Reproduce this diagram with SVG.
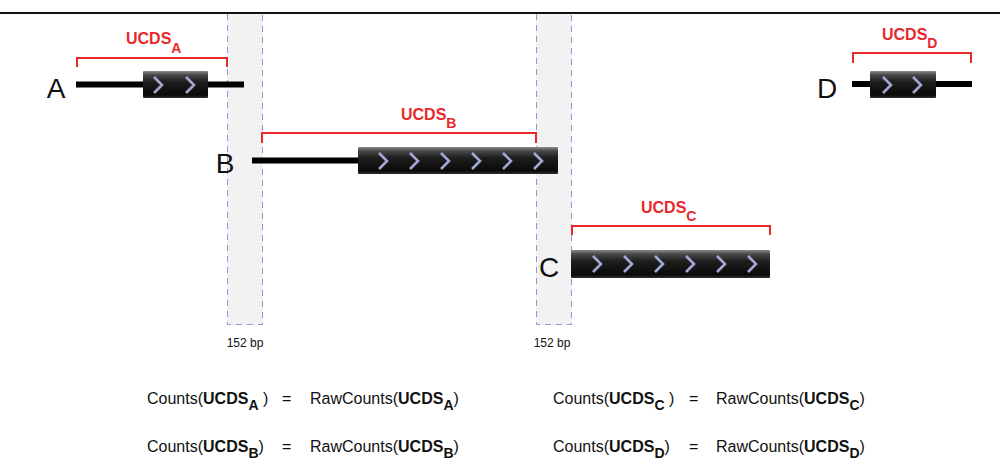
<svg xmlns="http://www.w3.org/2000/svg" width="1000" height="460" viewBox="0 0 1000 460">
  <defs>
    <linearGradient id="cds" x1="0" y1="0" x2="0" y2="1">
      <stop offset="0" stop-color="#8c8c8c"/>
      <stop offset="0.14" stop-color="#4a4a4a"/>
      <stop offset="0.4" stop-color="#1e1e1e"/>
      <stop offset="0.88" stop-color="#0a0a0a"/>
      <stop offset="1" stop-color="#2e2e2e"/>
    </linearGradient>
    <path id="chev" d="M0,-8 L8,0 L0,8"/>
  </defs>
  <style>
    .band { fill: #f2f2f2; }
    .band-edge { fill: none; stroke: #8e98dc; stroke-width: 1; stroke-dasharray: 6 5; }
    .utr { stroke: #000; stroke-width: 6; }
    .cds { fill: url(#cds); }
    .chev { fill: none; stroke: #a2a8d4; stroke-width: 2.6; stroke-linejoin: miter; }
    .bracket { fill: none; stroke: #e8292b; stroke-width: 2; }
    .ulabel { font-family: "Liberation Sans", Arial, sans-serif; font-weight: bold; font-size: 16px; fill: #e8292b; }
    .sub { font-size: 14px; }
    .gene { font-family: "Liberation Sans", Arial, sans-serif; font-size: 28px; fill: #111; text-anchor: middle; }
    .bp { font-family: "Liberation Sans", Arial, sans-serif; font-size: 12px; fill: #111; text-anchor: middle; }
    .eq { font-family: "Liberation Sans", Arial, sans-serif; font-size: 16px; fill: #111; }
    .b { font-weight: bold; }
    .eqsub { font-weight: bold; font-size: 14px; }
  </style>

  <!-- rule across the top -->
  <line x1="0" y1="13" x2="1000" y2="13" stroke="#111" stroke-width="2"/>

  <!-- 152 bp spacer regions -->
  <g id="spacer1">
    <rect class="band" x="227" y="14" width="36" height="311"/>
    <path class="band-edge" d="M227.5,14 V324.5 H262.5 V14"/>
    <text class="bp" x="245" y="347">152 bp</text>
  </g>
  <g id="spacer2">
    <rect class="band" x="536" y="14" width="36" height="311"/>
    <path class="band-edge" d="M536.5,14 V324.5 H571.5 V14"/>
    <text class="bp" x="552" y="347">152 bp</text>
  </g>

  <!-- gene A -->
  <g id="geneA">
    <text class="gene" x="56" y="98">A</text>
    <line class="utr" x1="76" y1="84.5" x2="244" y2="84.5"/>
    <rect class="cds" x="143" y="71" width="65" height="27" rx="1"/>
    <use href="#chev" class="chev" x="154" y="85"/>
    <use href="#chev" class="chev" x="186" y="85"/>
    <path class="bracket" d="M77,67 V58 H227 V67"/>
    <text class="ulabel" x="126" y="44">UCDS<tspan class="sub" dy="9">A</tspan></text>
  </g>

  <!-- gene B -->
  <g id="geneB">
    <text class="gene" x="225" y="173">B</text>
    <line class="utr" x1="252" y1="160.5" x2="359" y2="160.5"/>
    <rect class="cds" x="358" y="147" width="200" height="27" rx="1"/>
    <use href="#chev" class="chev" x="379" y="161"/>
    <use href="#chev" class="chev" x="410" y="161"/>
    <use href="#chev" class="chev" x="441" y="161"/>
    <use href="#chev" class="chev" x="472" y="161"/>
    <use href="#chev" class="chev" x="503" y="161"/>
    <use href="#chev" class="chev" x="534" y="161"/>
    <path class="bracket" d="M262,143 V133 H536 V143"/>
    <text class="ulabel" x="401" y="120">UCDS<tspan class="sub" dy="8">B</tspan></text>
  </g>

  <!-- gene C -->
  <g id="geneC">
    <text class="gene" x="549" y="277">C</text>
    <rect class="cds" x="571" y="250" width="199" height="28" rx="1"/>
    <use href="#chev" class="chev" x="593" y="264"/>
    <use href="#chev" class="chev" x="624" y="264"/>
    <use href="#chev" class="chev" x="655" y="264"/>
    <use href="#chev" class="chev" x="686" y="264"/>
    <use href="#chev" class="chev" x="717" y="264"/>
    <use href="#chev" class="chev" x="748" y="264"/>
    <path class="bracket" d="M572,235 V226 H770 V235"/>
    <text class="ulabel" x="641" y="213">UCDS<tspan class="sub" dy="8">C</tspan></text>
  </g>

  <!-- gene D -->
  <g id="geneD">
    <text class="gene" x="827" y="98">D</text>
    <line class="utr" x1="852" y1="84" x2="972" y2="84"/>
    <rect class="cds" x="870" y="71" width="66" height="27" rx="1"/>
    <use href="#chev" class="chev" x="883" y="85"/>
    <use href="#chev" class="chev" x="913" y="85"/>
    <path class="bracket" d="M853,63 V53 H971 V63"/>
    <text class="ulabel" x="882" y="40">UCDS<tspan class="sub" dy="8">D</tspan></text>
  </g>

  <!-- count equations -->
  <g id="equations">
    <text class="eq" x="147" y="404">Counts(<tspan class="b">UCDS</tspan><tspan class="eqsub" dy="6">A</tspan><tspan dy="-6"> )</tspan></text>
    <text class="eq" x="282" y="404">=</text>
    <text class="eq" x="310" y="404">RawCounts(<tspan class="b">UCDS</tspan><tspan class="eqsub" dy="6">A</tspan><tspan dy="-6">)</tspan></text>

    <text class="eq" x="147" y="452">Counts(<tspan class="b">UCDS</tspan><tspan class="eqsub" dy="6">B</tspan><tspan dy="-6">)</tspan></text>
    <text class="eq" x="282" y="452">=</text>
    <text class="eq" x="310" y="452">RawCounts(<tspan class="b">UCDS</tspan><tspan class="eqsub" dy="6">B</tspan><tspan dy="-6">)</tspan></text>

    <text class="eq" x="553" y="404">Counts(<tspan class="b">UCDS</tspan><tspan class="eqsub" dy="6">C</tspan><tspan dy="-6"> )</tspan></text>
    <text class="eq" x="689" y="404">=</text>
    <text class="eq" x="716" y="404">RawCounts(<tspan class="b">UCDS</tspan><tspan class="eqsub" dy="6">C</tspan><tspan dy="-6">)</tspan></text>

    <text class="eq" x="553" y="452">Counts(<tspan class="b">UCDS</tspan><tspan class="eqsub" dy="6">D</tspan><tspan dy="-6">)</tspan></text>
    <text class="eq" x="689" y="452">=</text>
    <text class="eq" x="716" y="452">RawCounts(<tspan class="b">UCDS</tspan><tspan class="eqsub" dy="6">D</tspan><tspan dy="-6">)</tspan></text>
  </g>
</svg>
